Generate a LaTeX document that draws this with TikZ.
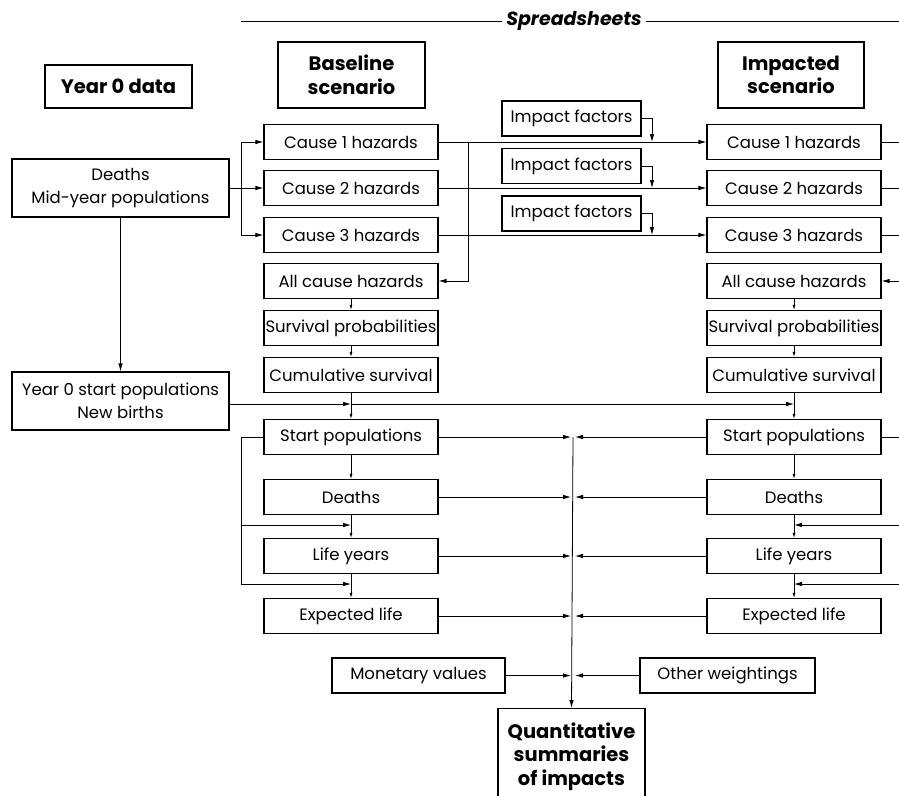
\documentclass[tikz,border=0pt]{standalone}
\usepackage{fontspec}
\setmainfont{Poppins}
\usetikzlibrary{arrows.meta}
\begin{document}
\begin{tikzpicture}[x=1pt,y=-1pt,
  box/.style={draw,line width=1.1pt,inner sep=0pt,align=center,font=\fontsize{16.5}{23}\selectfont},
  colbox/.style={box,minimum width=174pt,minimum height=35pt},
  headbox/.style={draw,line width=1.1pt,inner sep=0pt,align=center,font=\bfseries\fontsize{19.5}{23.5}\selectfont},
  line/.style={line width=0.8pt},
  arr/.style={line, -{Latex[length=8pt,width=4.5pt]}},
  sarr/.style={line, -{Latex[length=5pt,width=3pt]}}]
\useasboundingbox (0,0) rectangle (899,795);
% title
\node[font=\bfseries\itshape\fontsize{19}{22}\selectfont,inner sep=4pt] (ss) at (574,21) {Spreadsheets};
\draw[line] (241,21) -- (ss.west);
\draw[line] (ss.east) -- (899,21);
% headers
\node[headbox,minimum width=147pt,minimum height=43pt] (year0) at (118.5,86.5) {Year 0 data};
\node[headbox,minimum width=147pt,minimum height=66pt] (base) at (351.5,75) {Baseline\\scenario};
\node[headbox,minimum width=146pt,minimum height=66pt] (imp) at (791,75) {Impacted\\scenario};
% year 0 data boxes
\node[box,minimum width=217pt,minimum height=58pt] (dm) at (120.5,188) {Deaths\\Mid-year populations};
\node[box,minimum width=217pt,minimum height=58pt] (y0s) at (120.5,401) {Year 0 start populations\\New births};
% baseline column
\node[colbox] (bc1) at (351,142) {Cause 1 hazards};
\node[colbox] (bc2) at (351,188) {Cause 2 hazards};
\node[colbox] (bc3) at (351,235) {Cause 3 hazards};
\node[colbox] (ball) at (351,281) {All cause hazards};
\node[colbox] (bsurv) at (351,328) {Survival probabilities};
\node[colbox] (bcum) at (351,375) {Cumulative survival};
\node[colbox] (bstart) at (351,437) {Start populations};
\node[colbox] (bdeaths) at (351,497) {Deaths};
\node[colbox] (blife) at (351,556) {Life years};
\node[colbox] (bexp) at (351,616) {Expected life};
% impacted column
\node[colbox] (ic1) at (794,142) {Cause 1 hazards};
\node[colbox] (ic2) at (794,188) {Cause 2 hazards};
\node[colbox] (ic3) at (794,235) {Cause 3 hazards};
\node[colbox] (iall) at (794,281) {All cause hazards};
\node[colbox] (isurv) at (794,328) {Survival probabilities};
\node[colbox] (icum) at (794,375) {Cumulative survival};
\node[colbox] (istart) at (794,437) {Start populations};
\node[colbox] (ideaths) at (794,497) {Deaths};
\node[colbox] (ilife) at (794,556) {Life years};
\node[colbox] (iexp) at (794,616) {Expected life};
% impact factors
\node[box,minimum width=139pt,minimum height=35pt] (if1) at (571.5,118.5) {Impact factors};
\node[box,minimum width=139pt,minimum height=35pt] (if2) at (571.5,166) {Impact factors};
\node[box,minimum width=139pt,minimum height=35pt] (if3) at (571.5,213.5) {Impact factors};
% weightings
\node[box,minimum width=173pt,minimum height=35pt] (mon) at (418.5,675.5) {Monetary values};
\node[box,minimum width=175pt,minimum height=35pt] (oth) at (727.5,675.5) {Other weightings};
% summary
\node[headbox,anchor=north,minimum width=147pt,inner ysep=14pt] (quant) at (571.5,708) {Quantitative\\summaries\\of impacts};
% coordinates
\coordinate (br) at (241,188);
\coordinate (j1) at (468,142);
\coordinate (t1) at (652,142);
\coordinate (t2) at (652,188);
\coordinate (t3) at (652,235);
\coordinate (cb) at (351,404);
\coordinate (ci) at (794,404);
\coordinate (lp) at (241,437);
\coordinate (lb1) at (351,525);
\coordinate (lb2) at (351,584);
\coordinate (li1) at (794,525);
\coordinate (li2) at (794,584);
\coordinate (ctop) at (573,437);
% connectors: year 0 data
\draw[line] (dm.east) -- (br);
\draw[arr] (br) |- (bc1.west);
\draw[arr] (br) -- (bc2.west);
\draw[arr] (br) |- (bc3.west);
\draw[arr] (dm.south) -- (y0s.north);
% cause hazards across
\draw[arr] (bc1.east) -- (ic1.west);
\draw[arr] (bc2.east) -- (ic2.west);
\draw[arr] (bc3.east) -- (ic3.west);
\draw[arr] (j1) |- (ball.east);
\draw[arr] (if1.east) -| (t1);
\draw[arr] (if2.east) -| (t2);
\draw[arr] (if3.east) -| (t3);
% impacted side stubs
\draw[line] (ic1.east) -- ++(18,0);
\draw[line] (ic2.east) -- ++(18,0);
\draw[line] (ic3.east) -- ++(18,0);
\draw[arr] (899,281) -- (iall.east);
\draw[line] (istart.east) -- ++(18,0);
\draw[arr] (899,525) -- (li1);
\draw[arr] (899,584) -- (li2);
% column arrows
\foreach \c in {b,i}{
  \draw[sarr] (\c all.south) -- (\c surv.north);
  \draw[sarr] (\c surv.south) -- (\c cum.north);
  \draw[sarr] (\c cum.south) -- (\c start.north);
  \draw[sarr] (\c start.south) -- (\c deaths.north);
  \draw[sarr] (\c deaths.south) -- (\c life.north);
  \draw[sarr] (\c life.south) -- (\c exp.north);
}
% start populations feed
\draw[arr] ([yshift=-3pt]y0s.east) -- (cb);
\draw[arr] (cb) -- (ci);
% loop on baseline
\draw[line] (bstart.west) -- (lp) -- (241,584);
\draw[arr] (241,525) -- (lb1);
\draw[arr] (241,584) -- (lb2);
% central collector
\draw[arr] (ctop) -- (quant.north);
\foreach \n/\y in {start/437,deaths/497,life/556,exp/616}{
  \draw[arr] (b\n.east) -- (571,\y);
  \draw[arr] (i\n.west) -- (575,\y);
}
\draw[arr] (mon.east) -- (571,675.5);
\draw[arr] (oth.west) -- (575,675.5);
\end{tikzpicture}
\end{document}
